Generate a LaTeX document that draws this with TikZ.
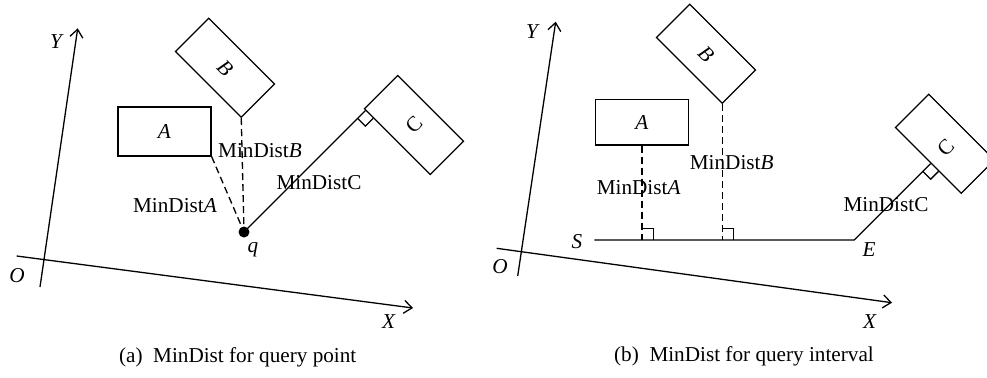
\documentclass[tikz,border=0pt]{standalone}
\usepackage{fontspec}
\setmainfont{Liberation Serif}
\usetikzlibrary{calc,arrows.meta}
\begin{document}
\begin{tikzpicture}[x=0.5pt,y=-0.5pt,
  every node/.style={font=\fontsize{10.6}{12}\selectfont},
  ln/.style={line width=0.65pt},
  dsh/.style={line width=0.65pt, dash pattern=on 3.5pt off 2pt},
  axis/.style={line width=0.65pt,-{Straight Barb[length=4pt,width=6.5pt]}},
  rbox/.style={draw,line width=0.65pt,inner sep=0pt,minimum width=46.5pt,minimum height=23.5pt,rotate=-45},
  abox/.style={draw,line width=0.65pt,inner sep=0pt},
  lbl/.style={inner sep=0pt},
  dot/.style={circle,fill,inner sep=0pt,minimum size=5.5pt}
]
\path[use as bounding box] (0,0) rectangle (987,377);

% ---------- panel (a) ----------
\coordinate (ya0) at (40,287);
\coordinate (ya1) at (77.7,28.3);
\coordinate (xa0) at (16.7,256);
\coordinate (xa1) at (413,308);
\draw[axis] (ya0) -- (ya1);
\draw[axis] (xa0) -- (xa1);
\node[lbl] (Ya) at (57,42) {\textit{Y}};
\node[lbl] (Oa) at (17,276) {\textit{O}};
\node[lbl] (Xa) at (389,322) {\textit{X}};

\node[abox,minimum width=46.5pt,minimum height=24.5pt] (Aa) at (164.5,131.5) {\textit{A}};
\node[rbox] (Ba) at (225,67.75) {\textit{B}};
\node[rbox] (Ca) at (414,125) {};
\node[lbl,rotate=45] (CaL) at (Ca.center) {C};

\coordinate (qa) at (244,232);
\coordinate (Fa) at ($(Ca.south west)!(qa)!(Ca.south east)$);
\coordinate (Fa1) at ($(Fa)!5.5pt!(Ca.south east)$);
\coordinate (Fa2) at ($(Fa)!5.5pt!(qa)$);
\draw[ln] (qa) -- (Fa);
\draw[ln] (Fa1) -- ($(Fa1)+(Fa2)-(Fa)$) -- (Fa2);
\draw[dsh] (Aa.south east) -- (qa);
\draw[dsh] (Ba.south east) -- (qa);
\node[dot] (qdot) at (qa) {};
\node[lbl] (qlab) at (253,250) {\textit{q}};

\node[lbl] (mdAa) at (175,206) {MinDist\textit{A}};
\node[lbl] (mdBa) at (260,151) {MinDist\textit{B}};
\node[lbl] (mdCa) at (319,183) {MinDistC};

\node[lbl] (capa) at (237.7,357) {(a)\ \ MinDist for query point};

% ---------- panel (b) ----------
\coordinate (yb0) at (517.7,276);
\coordinate (yb1) at (555.7,21.7);
\coordinate (xb0) at (496.7,248.3);
\coordinate (xb1) at (892,302.7);
\draw[axis] (yb0) -- (yb1);
\draw[axis] (xb0) -- (xb1);
\node[lbl] (Yb) at (533,32) {\textit{Y}};
\node[lbl] (Ob) at (500,267) {\textit{O}};
\node[lbl] (Xb) at (870,322) {\textit{X}};

\node[abox,minimum width=46.7pt,minimum height=22.8pt] (Ab) at (642,122.2) {\textit{A}};
\node[rbox] (Bb) at (706,53.8) {\textit{B}};
\node[rbox] (Cb) at (945,143.8) {};
\node[lbl,rotate=45] (CbL) at (945.7,148) {C};

\coordinate (sb) at (594.3,240);
\coordinate (eb) at (854.3,240);
\coordinate (Fb) at ($(Cb.south west)!(eb)!(Cb.south east)$);
\coordinate (Fb1) at ($(Fb)!5.5pt!(Cb.south east)$);
\coordinate (Fb2) at ($(Fb)!5.5pt!(eb)$);
\draw[ln] (sb) -- (eb) -- (Fb);
\draw[ln] (Fb1) -- ($(Fb1)+(Fb2)-(Fb)$) -- (Fb2);

\coordinate (FAb) at ($(sb)!(Ab.south)!(eb)$);
\coordinate (FAb1) at ($(FAb)!5.75pt!(eb)$);
\coordinate (FAb2) at ($(FAb)!5.75pt!(Ab.south)$);
\draw[dsh] (Ab.south) -- (FAb);
\draw[ln] (FAb1) -- ($(FAb1)+(FAb2)-(FAb)$) -- (FAb2);

\coordinate (FBb) at ($(sb)!(Bb.south east)!(eb)$);
\coordinate (FBb1) at ($(FBb)!5.75pt!(eb)$);
\coordinate (FBb2) at ($(FBb)!5.75pt!(Bb.south east)$);
\draw[dsh] (Bb.south east) -- (FBb);
\draw[ln] (FBb1) -- ($(FBb1)+(FBb2)-(FBb)$) -- (FBb2);

\node[lbl] (Sb) at (577,241.7) {\textit{S}};
\node[lbl] (Eb) at (869,250) {\textit{E}};
\node[lbl] (mdAb) at (638.7,188) {MinDist\textit{A}};
\node[lbl] (mdBb) at (731.7,163) {MinDist\textit{B}};
\node[lbl] (mdCb) at (886,205) {MinDistC};

\node[lbl] (capb) at (744,356.7) {(b)\ \ MinDist for query interval};
\end{tikzpicture}
\end{document}
